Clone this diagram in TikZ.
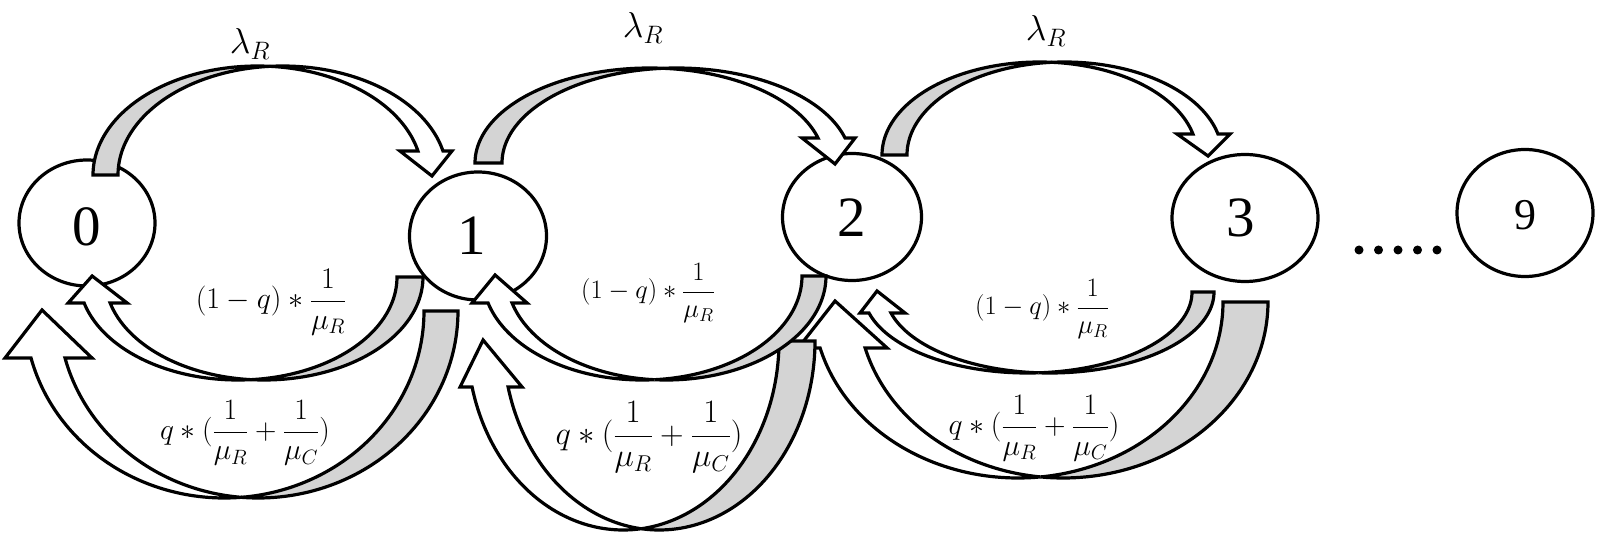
\RequirePackage{fix-cm}
\documentclass[tikz,border=0pt]{standalone}
\usepackage{amsmath}
\usepackage[no-math]{fontspec}
\setmainfont{Liberation Serif}
\usetikzlibrary{shapes.geometric}
\definecolor{backgray}{RGB}{212,212,212}
\tikzset{
  statenode/.style={draw, line width=3.2pt, fill=white, ellipse, inner sep=0pt, font=\fontsize{57}{60}\selectfont},
  backside/.style={draw, line width=3.2pt, fill=backgray, line join=miter},
  frontside/.style={draw, line width=3.2pt, fill=white, line join=miter},
  ratelabel/.style={inner sep=0pt},
  dotnode/.style={circle, fill=black, inner sep=0pt, minimum size=9pt},
}
% curved arrow arching above, from left foot to arrowhead on the right
% #1 a (outer foot x) #2 d #3 yf #4 h #5 wR #6 yb #7 wl #8 wr #9 tipdx
\newcommand{\archarrowtop}[9]{%
  \pgfmathsetmacro\arA{#1+#5}%
  \pgfmathsetmacro\arB{#1+#2+#5}%
  \pgfmathsetmacro\arTc{acos(#2/(2*#5))}%
  \pgfmathsetmacro\arTcc{180-\arTc}%
  \pgfmathsetmacro\arTb{asin((#3-#6)/#4)}%
  \pgfmathsetmacro\arCtr{\arA+#5*cos(\arTb)+#2/2}%
  \filldraw[backside] plot[domain=180:\arTc,samples=60,variable=\t] ({\arA+#5*cos(\t)},{#3-#4*sin(\t)})
     -- plot[domain=\arTcc:180,samples=60,variable=\t] ({\arB+#5*cos(\t)},{#3-#4*sin(\t)}) -- cycle;
  \filldraw[frontside] plot[domain=\arTcc:\arTb,samples=60,variable=\t] ({\arB+#5*cos(\t)},{#3-#4*sin(\t)})
     -- ({\arCtr+(#8)},#6) -- ({\arCtr+(#9)},{#3+1}) -- ({\arCtr-(#7)},#6)
     -- plot[domain=\arTb:\arTc,samples=60,variable=\t] ({\arA+#5*cos(\t)},{#3-#4*sin(\t)}) -- cycle;
}
% curved arrow arching below, from right foot to arrowhead on the left
% #1 A (outer foot x) #2 d #3 yf #4 h #5 wR #6 yb #7 wo #8 wi #9 tipdx
\newcommand{\archarrowbot}[9]{%
  \pgfmathsetmacro\arA{#1-#5}%
  \pgfmathsetmacro\arB{#1-#2-#5}%
  \pgfmathsetmacro\arTc{acos(#2/(2*#5))}%
  \pgfmathsetmacro\arTcc{180-\arTc}%
  \pgfmathsetmacro\arTb{asin((#6-#3)/#4)}%
  \pgfmathsetmacro\arTbb{180-\arTb}%
  \pgfmathsetmacro\arCtr{\arA-#5*cos(\arTb)-#2/2}%
  \filldraw[backside] plot[domain=0:\arTcc,samples=60,variable=\t] ({\arA+#5*cos(\t)},{#3+#4*sin(\t)})
     -- plot[domain=\arTc:0,samples=60,variable=\t] ({\arB+#5*cos(\t)},{#3+#4*sin(\t)}) -- cycle;
  \filldraw[frontside] plot[domain=\arTc:\arTbb,samples=60,variable=\t] ({\arB+#5*cos(\t)},{#3+#4*sin(\t)})
     -- ({\arCtr-(#7)},#6) -- ({\arCtr+(#9)},{#3-1}) -- ({\arCtr+(#8)},#6)
     -- plot[domain=\arTbb:\arTcc,samples=60,variable=\t] ({\arA+#5*cos(\t)},{#3+#4*sin(\t)}) -- cycle;
}
\begin{document}
\begin{tikzpicture}[x=1pt,y=-1pt]
\useasboundingbox (0,0) rectangle (1600,537);
% states
\node[statenode, minimum width=136pt, minimum height=126pt] (s0) at (87,223) {};
\node[statenode, minimum width=137pt, minimum height=128pt] (s1) at (478,236) {};
\node[statenode, minimum width=139pt, minimum height=127pt] (s2) at (852,217) {};
\node[statenode, minimum width=146pt, minimum height=127pt] (s3) at (1245,218) {};
\node[statenode, minimum width=136pt, minimum height=127pt] (s9) at (1525,213) {};
\node[font=\fontsize{57}{60}\selectfont, inner sep=0pt] (t0) at (87,227) {0};
\node[font=\fontsize{57}{60}\selectfont, inner sep=0pt] (t1) at (472,236) {1};
\node[font=\fontsize{57}{60}\selectfont, inner sep=0pt] (t2) at (852,218) {2};
\node[font=\fontsize{57}{60}\selectfont, inner sep=0pt] (t3) at (1241,218) {3};
\node[font=\fontsize{44}{48}\selectfont, inner sep=0pt] (t9) at (1525,215) {9};
\foreach \i in {0,...,4} \node[dotnode] (dot\i) at (1359+19.5*\i,250) {};
% top arrows (lambda_R)
\archarrowtop{93}{25}{175}{109}{164.5}{151}{30.5}{21.5}{1.5}
\archarrowtop{475}{27}{163}{95}{174.6}{138}{29.5}{23.5}{3.5}
\archarrowtop{882}{25}{155}{93}{157.5}{134}{28.4}{24.6}{2.6}
% bottom arrows, right to left
\archarrowbot{1268}{45}{302}{176}{205}{348}{44.5}{44.5}{-7.6}
\archarrowbot{1214}{22}{292}{81}{164.3}{313}{20}{25}{-3}
\archarrowbot{815}{36}{341}{189}{155.8}{387}{30}{32}{-7}
\archarrowbot{826}{24}{276}{104}{159.7}{303}{28}{27}{-5}
\archarrowbot{458}{34}{311}{187}{199.7}{358}{43}{44}{-6}
\archarrowbot{423}{26}{277}{103}{159}{303}{29}{30}{-5}
% labels
\node[ratelabel, font=\fontsize{36}{40}\selectfont] (lam1) at (250,44) {$\lambda_R$};
\node[ratelabel, font=\fontsize{36}{40}\selectfont] (lam2) at (643,28) {$\lambda_R$};
\node[ratelabel, font=\fontsize{36}{40}\selectfont] (lam3) at (1046,31) {$\lambda_R$};
\node[ratelabel, font=\fontsize{30}{34}\selectfont] (r1) at (271,302) {$(1-q)*\dfrac{1}{\mu_R}$};
\node[ratelabel, font=\fontsize{26.6}{31}\selectfont] (r2) at (648,293) {$(1-q)*\dfrac{1}{\mu_R}$};
\node[ratelabel, font=\fontsize{26.6}{31}\selectfont] (r3) at (1042,309) {$(1-q)*\dfrac{1}{\mu_R}$};
\node[ratelabel, font=\fontsize{29.6}{34}\selectfont] (c1) at (245,433) {$q*(\dfrac{1}{\mu_R}+\dfrac{1}{\mu_C})$};
\node[ratelabel, font=\fontsize{32.7}{37}\selectfont] (c2) at (649,437) {$q*(\dfrac{1}{\mu_R}+\dfrac{1}{\mu_C})$};
\node[ratelabel, font=\fontsize{29.8}{34}\selectfont] (c3) at (1034,428) {$q*(\dfrac{1}{\mu_R}+\dfrac{1}{\mu_C})$};
\end{tikzpicture}
\end{document}
